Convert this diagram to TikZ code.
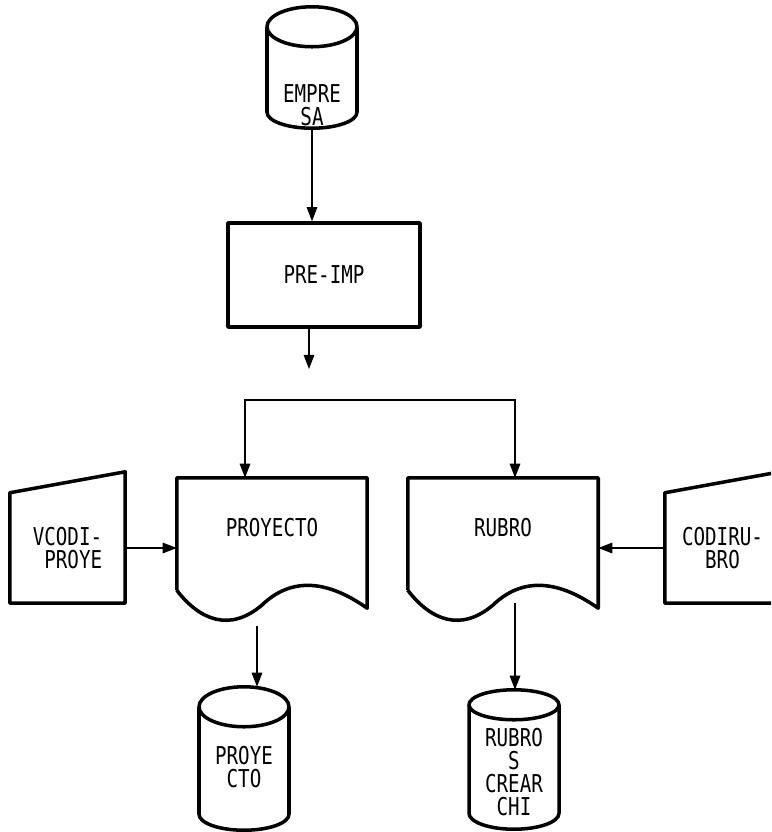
\documentclass[tikz,border=0pt]{standalone}
\usepackage{fontspec}
\usetikzlibrary{positioning,calc}
\usetikzlibrary{arrows.meta}
\newfontfamily\plotfont[FakeStretch=0.78]{DejaVu Sans Mono}
\tikzset{
	shp/.style={draw=black,line width=3pt,line join=round},
	flow/.style={draw=black,line width=1.1pt,->},
	lbl/.style={font=\plotfont\fontsize{21}{19.5}\selectfont,align=center,inner sep=0pt},
	procbox/.style={shp,lbl,minimum width=5.76cm,minimum height=3.12cm},
	docbox/.style={lbl,minimum width=5.7cm,minimum height=3cm},
	manbox/.style={lbl,minimum width=3.45cm,minimum height=3.3cm},
	dbbox/.style={inner sep=0pt,minimum width=2.7cm,minimum height=#1},
}

\begin{document}
\begin{tikzpicture}[x=0.3mm,y=-0.3mm,>={Triangle[length=12pt,width=9pt]}]
	\useasboundingbox (0,0) rectangle (771,832);
	\clip (0,0) rectangle (771,832);
	% shapes
	\node[dbbox=3.63cm] (emp) at (312,67.5) {};
	\node[procbox] (pre) at (324,275) {PRE-IMP};
	\node[docbox] (proy) at (272,528) {PROYECTO};
	\node[docbox] (rub) at (503,528) {RUBRO};
	\node[manbox] (vcp) at (67.5,548) {VCODI-\\\phantom{V}PROYE};
	\node[manbox] (cod) at (722.5,548) {CODIRU-\\BRO};
	\node[dbbox=4.29cm] (pcto) at (244,758.5) {};
	\node[dbbox=4.17cm] (rcc) at (514,759.5) {};
	% drum texts
	\node[lbl] (empt) at ($(emp.south)+(0,-23)$) {EMPRE\\SA};
	\node[lbl] (pctot) at ($(pcto.south)+(0,-63)$) {PROYE\\CTO};
	\node[lbl] (rcct) at ($(rcc.south)+(0,-57)$) {RUBRO\\S\\CREAR\\CHI};
	% outlines
	\foreach \c/\r in {emp/20,pcto/20,rcc/15}{
		\draw[shp] ($(\c.north)+(0,\r)$) ellipse [x radius=1.35cm,y radius=\r*0.03cm];
		\draw[shp] ($(\c.north)+(-45,\r)$) -- ($(\c.south)+(-45,-16)$)
			arc[start angle=180,end angle=360,x radius=1.35cm,y radius=0.48cm]
			-- ($(\c.north)+(45,\r)$);
	}
	\foreach \d in {proy,rub}
		\draw[shp] ($(\d.south west)+(0,12)$) -- (\d.north west) -- (\d.north east)
			-- ($(\d.south east)+(0,30)$)
			.. controls ($(\d.south west)+(148,0)$) and ($(\d.south west)+(113,0)$) .. ($(\d.south west)+(85,27)$)
			.. controls ($(\d.south west)+(53,54)$) and ($(\d.south west)+(23,42)$) .. ($(\d.south west)+(0,12)$);
	\foreach \m in {vcp,cod}
		\draw[shp] (\m.south west) -- (\m.north west) -- ($(\m.north east)+(0,-21)$) -- (\m.south east) -- cycle;
	% connectors
	\coordinate (drop) at (309,369);
	\coordinate (busl) at (245,400);
	\coordinate (busr) at (515,400);
	\coordinate (pout) at ($(proy.south)+(-15,48)$);
	\coordinate (rout) at ($(rub.south)+(12,25)$);
	\draw[flow] (emp.south) -- (emp.south |- pre.north);
	\draw[flow] (drop |- pre.south) -- (drop);
	\draw[flow,<->] (busl |- proy.north) -- (busl) -- (busr) -- (busr |- rub.north);
	\draw[flow] (vcp.east) -- (vcp.east -| proy.west);
	\draw[flow] (cod.west) -- (cod.west -| rub.east);
	\draw[flow] (pout) -- (pout |- pcto.north);
	\draw[flow] (rout) -- (rout |- rcc.north);
\end{tikzpicture}
\end{document}
